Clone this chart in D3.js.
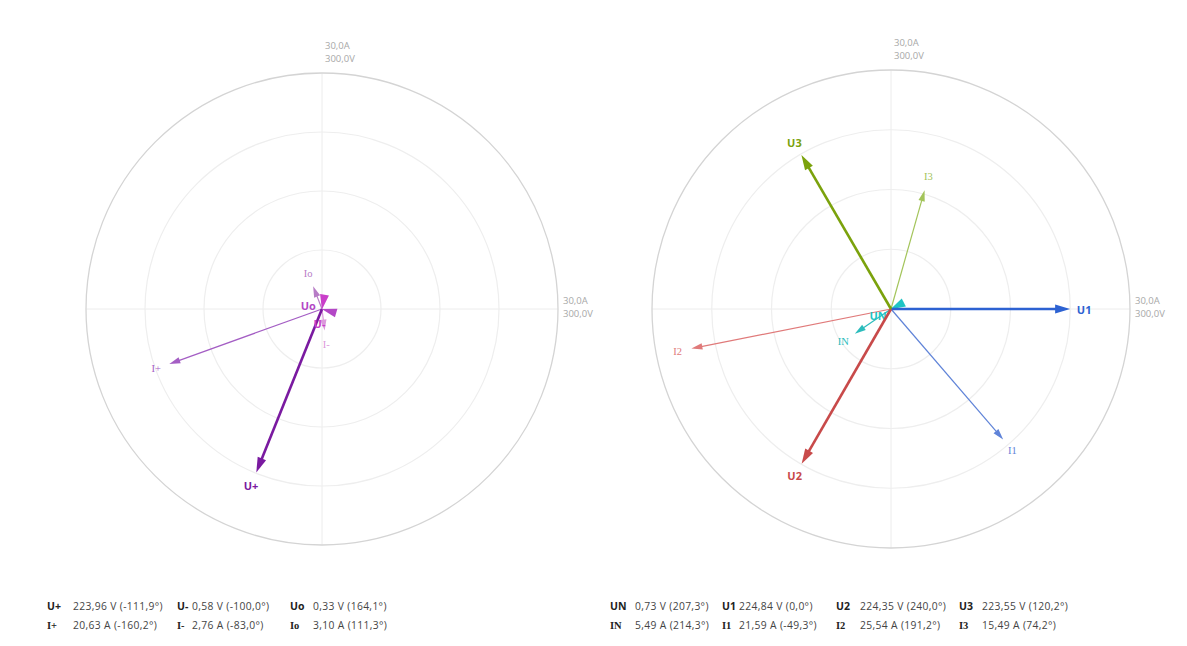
<!DOCTYPE html>
<html>
<head>
<meta charset="utf-8">
<script src="https://cdn.jsdelivr.net/npm/d3@7"></script>
<style>
  html, body { margin: 0; padding: 0; background: #ffffff; }
  svg { display: block; font-family: "Open Sans", "Noto Sans", sans-serif; }
</style>
</head>
<body>
<svg id="chart" width="1187" height="646"></svg>
<script>
// Symmetrical components (left diagram)
const symLabels = ["U+", "U-", "Uo", "I+", "I-", "Io"];
const symValues = [223.96, 0.58, 0.33, 20.63, 2.76, 3.10];
const symAngles = [-111.9, -100.0, 164.1, -160.2, -83.0, 111.3];
const symUnits  = ["V", "V", "V", "A", "A", "A"];

// Phase quantities (right diagram)
const phaseLabels = ["UN", "U1", "U2", "U3", "IN", "I1", "I2", "I3"];
const phaseValues = [0.73, 224.84, 224.35, 223.55, 5.49, 21.59, 25.54, 15.49];
const phaseAngles = [207.3, 0.0, 240.0, 120.2, 214.3, -49.3, 191.2, 74.2];
const phaseUnits  = ["V", "V", "V", "V", "A", "A", "A", "A"];

// Full-scale values of the two radial scales
const scaleMax = { V: 300, A: 30 };
const scaleLabels = ["30,0A", "300,0V"];
const ringFractions = [0.25, 0.5, 0.75, 1];

// Colours per quantity
const colors = {
  "U+": "#7a1aa0", "U-": "#c93fc9", "Uo": "#b347c6",
  "I+": "#a45ec4", "I-": "#dc9adc", "Io": "#b77cc6",
  "UN": "#1fc4c4", "U1": "#2d62d2", "U2": "#c84a4a", "U3": "#7ba20c",
  "IN": "#2cbcbc", "I1": "#5f83d8", "I2": "#e07a7a", "I3": "#a3c45a"
};

const svg = d3.select("#chart");
// decimal comma and plain hyphen for negative numbers
const localize = s => s.replace(".", ",").replace("\u2212", "-");
const fmtVal = d3.format(".2f");
const fmtAng = d3.format(".1f");

function drawDiagram(cfg) {
  const g = svg.append("g").attr("transform", `translate(${cfg.cx},${cfg.cy})`);
  const R = cfg.R;
  const rScale = {
    V: d3.scaleLinear().domain([0, scaleMax.V]).range([0, R]),
    A: d3.scaleLinear().domain([0, scaleMax.A]).range([0, R])
  };

  // grid: cross hair and rings
  g.append("line").attr("x1", -R).attr("x2", R).attr("y1", 0).attr("y2", 0)
    .attr("stroke", "#ececec").attr("stroke-width", 1);
  g.append("line").attr("x1", 0).attr("x2", 0).attr("y1", -R).attr("y2", R)
    .attr("stroke", "#ececec").attr("stroke-width", 1);
  g.selectAll("circle.ring").data(ringFractions).join("circle")
    .attr("class", "ring")
    .attr("r", f => rScale.V(f * scaleMax.V))
    .attr("fill", "none")
    .attr("stroke", f => f === 1 ? "#d4d4d4" : "#eeeeee")
    .attr("stroke-width", f => f === 1 ? 1.3 : 1.2);

  // full-scale labels (top and right)
  g.selectAll("text.top").data(scaleLabels).join("text")
    .attr("class", "top")
    .attr("x", 3).attr("y", (d, i) => -R - 24 + i * 12.5)
    .attr("font-size", 9.5).attr("fill", "#a8a8a8").text(d => d);
  g.selectAll("text.side").data(scaleLabels).join("text")
    .attr("class", "side")
    .attr("x", R + 5).attr("y", (d, i) => -5 + i * 12.5)
    .attr("font-size", 9.5).attr("fill", "#a8a8a8").text(d => d);

  // vectors
  const vecs = cfg.labels.map((name, i) => {
    const unit = cfg.units[i];
    const a = cfg.angles[i] * Math.PI / 180;
    const ux = Math.cos(a), uy = -Math.sin(a);
    const len = rScale[unit](cfg.values[i]);
    return { name, unit, ux, uy, len, x: ux * len, y: uy * len };
  });
  // currents underneath voltages
  vecs.sort((p, q) => (p.unit === "V") - (q.unit === "V"));

  const vg = g.selectAll("g.vec").data(vecs).join("g").attr("class", "vec");
  const headLen = d => d.unit === "V" ? 15 : 11;
  const headHalf = d => d.unit === "V" ? 4.5 : 3.2;

  vg.filter(d => d.len > headLen(d)).append("line")
    .attr("x1", 0).attr("y1", 0)
    .attr("x2", d => d.x - d.ux * (headLen(d) - 1))
    .attr("y2", d => d.y - d.uy * (headLen(d) - 1))
    .attr("stroke", d => colors[d.name])
    .attr("stroke-width", d => d.unit === "V" ? 2.6 : 1.2);

  vg.append("path")
    .attr("d", d => {
      const h = headLen(d), w = headHalf(d);
      const bx = d.x - d.ux * h, by = d.y - d.uy * h;
      const px = -d.uy, py = d.ux;
      return `M${d.x},${d.y}L${bx + px * w},${by + py * w}L${bx - px * w},${by - py * w}Z`;
    })
    .attr("fill", d => colors[d.name]);

  vg.append("text")
    .attr("x", d => d.x + d.ux * 14)
    .attr("y", d => d.y + d.uy * 14)
    .attr("text-anchor", "middle")
    .attr("dominant-baseline", "central")
    .attr("font-size", d => d.unit === "V" ? 11 : 10.5)
    .attr("font-weight", d => d.unit === "V" ? "bold" : "normal")
    .attr("font-family", d => d.unit === "V" ? null : "'Liberation Serif', serif")
    .attr("fill", d => colors[d.name])
    .text(d => d.name);
}

function drawLegend(cfg) {
  const g = svg.append("g");
  cfg.rows.forEach((row, r) => {
    row.forEach((i, c) => {
      const y = cfg.y0 + r * cfg.dy;
      g.append("text")
        .attr("x", cfg.labelX[c]).attr("y", y)
        .attr("font-size", 10.5).attr("font-weight", "bold").attr("fill", "#222")
        .attr("font-family", cfg.labels[i][0] === "I" ? "'Liberation Serif', serif" : null)
        .text(cfg.labels[i]);
      g.append("text")
        .attr("x", cfg.valueX[c]).attr("y", y)
        .attr("font-size", 10.3).attr("letter-spacing", 0.35).attr("fill", "#444")
        .text(`${localize(fmtVal(cfg.values[i]))} ${cfg.units[i]} (${localize(fmtAng(cfg.angles[i]))}°)`);
    });
  });
}

drawDiagram({ cx: 322, cy: 309, R: 236,
  labels: symLabels, values: symValues, angles: symAngles, units: symUnits });
drawDiagram({ cx: 891, cy: 309, R: 239,
  labels: phaseLabels, values: phaseValues, angles: phaseAngles, units: phaseUnits });

drawLegend({ y0: 610, dy: 19,
  labelX: [47, 177, 290], valueX: [73, 192, 313],
  rows: [[0, 1, 2], [3, 4, 5]],
  labels: symLabels, values: symValues, angles: symAngles, units: symUnits });
drawLegend({ y0: 610, dy: 19,
  labelX: [610, 722, 836, 959], valueX: [635, 739, 860, 982],
  rows: [[0, 1, 2, 3], [4, 5, 6, 7]],
  labels: phaseLabels, values: phaseValues, angles: phaseAngles, units: phaseUnits });
</script>
</body>
</html>
